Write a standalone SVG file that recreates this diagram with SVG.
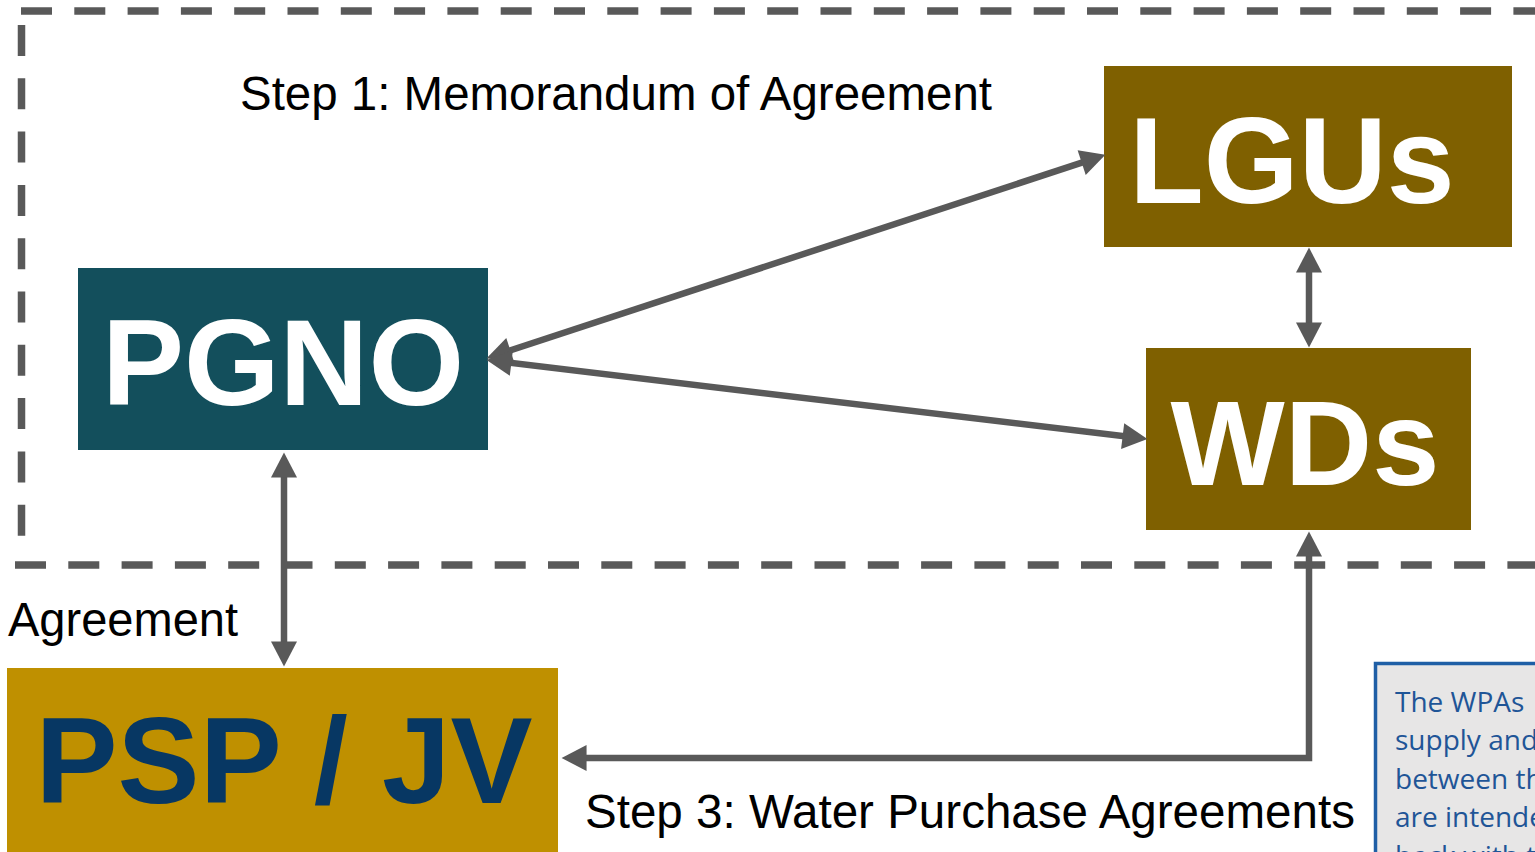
<svg xmlns="http://www.w3.org/2000/svg" width="1535" height="852" viewBox="0 0 1535 852">
<style>
.dash{fill:none;stroke:#595959;stroke-width:7.5;stroke-dasharray:31 22.3}
.conn{fill:none;stroke:#595959;stroke-width:6.5}
.lbl{font-family:"Liberation Sans",Arial,sans-serif;font-size:47.5px;fill:#000}
.big{font-family:"Liberation Sans",Arial,sans-serif;font-weight:bold;font-size:123px;fill:#fff;text-anchor:middle}
.note{font-family:"Open Sans","Noto Sans",sans-serif;font-size:28px;fill:#1f5597}
</style>
<defs>
<marker id="ah" markerUnits="userSpaceOnUse" markerWidth="26" markerHeight="26" viewBox="0 0 24 25" refX="14" refY="12.5" orient="auto-start-reverse">
<path d="M0,0 L24,12.5 L0,25 z" fill="#595959"/>
</marker>
</defs>
<rect width="1535" height="852" fill="#fff"/>
<g id="boundary">
<line class="dash" x1="21" y1="11" x2="1535" y2="11"/>
<line class="dash" x1="21.5" y1="25" x2="21.5" y2="545"/>
<line class="dash" x1="15" y1="565" x2="1535" y2="565"/>
</g>
<g id="node-pgno">
<rect x="78" y="268" width="410" height="182" fill="#134f5c"/>
<text class="big" x="283" y="405">PGNO</text>
</g>
<g id="node-lgus">
<rect x="1104" y="66" width="408" height="181" fill="#7f6000"/>
<text class="big" x="1292" y="203" style="font-size:122px">LGUs</text>
</g>
<g id="node-wds">
<rect x="1146" y="348" width="325" height="182" fill="#7f6000"/>
<text class="big" x="1305" y="485" style="font-size:121px">WDs</text>
</g>
<g id="node-psp">
<rect x="7" y="668" width="551" height="190" fill="#bf9000"/>
<text class="big" x="284" y="803" style="fill:#073763">PSP / JV</text>
</g>
<g id="connectors">
<line class="conn" x1="496.5" y1="354.9" x2="1095.5" y2="158.1" marker-start="url(#ah)" marker-end="url(#ah)"/>
<line class="conn" x1="496.9" y1="361.2" x2="1137.1" y2="437.8" marker-start="url(#ah)" marker-end="url(#ah)"/>
<line class="conn" x1="1309" y1="258" x2="1309" y2="337" marker-start="url(#ah)" marker-end="url(#ah)"/>
<line class="conn" x1="284" y1="463" x2="284" y2="656" marker-start="url(#ah)" marker-end="url(#ah)"/>
<path class="conn" d="M1309,542 L1309,758 L572,758" marker-start="url(#ah)" marker-end="url(#ah)"/>
</g>
<g id="labels">
<text class="lbl" x="240" y="110" textLength="752" lengthAdjust="spacingAndGlyphs">Step 1: Memorandum of Agreement</text>
<text class="lbl" x="8" y="636" textLength="230" lengthAdjust="spacingAndGlyphs">Agreement</text>
<text class="lbl" x="585" y="828" textLength="770" lengthAdjust="spacingAndGlyphs">Step 3: Water Purchase Agreements</text>
</g>
<g id="note">
<rect x="1375.5" y="663.5" width="200" height="250" fill="#e7e6e6" stroke="#1f5fa6" stroke-width="3.5"/>
<text class="note" x="1395" y="712">The WPAs</text>
<text class="note" x="1395" y="750">supply and</text>
<text class="note" x="1395" y="789">between th</text>
<text class="note" x="1395" y="827">are intende</text>
<text class="note" x="1395" y="866">back with t</text>
</g>
</svg>
